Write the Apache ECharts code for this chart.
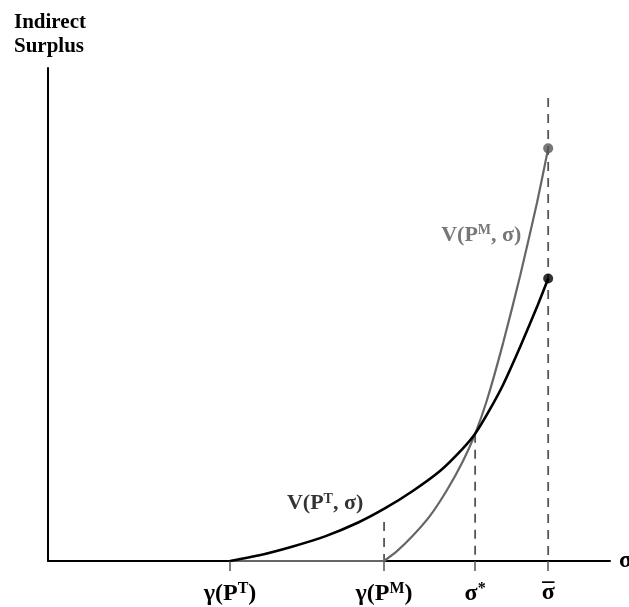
<!DOCTYPE html>
<html><head><meta charset="utf-8">
<script src="https://cdn.jsdelivr.net/npm/echarts@6/dist/echarts.min.js"></script>
<style>html,body{margin:0;padding:0;background:#fff}#c{width:629px;height:607px}</style>
</head><body><div id="c"></div>
<script>
// Tick positions on sigma axis
const tickValues = [3.24, 5.98, 7.6, 8.9];
const tickLabels = ['{b|γ(P}{s|T}{b|)}', '{b|γ(P}{s|M}{b|)}', '{b|σ}{s|*}', '{sg|σ}{ov|¯}'];
// V(P^T, sigma) - black curve
const curveT = [[3.24,0],[3.74,1.1],[4.34,2.9],[4.93,5.0],[5.52,7.8],[6.0,10.7],[6.49,14.2],[6.98,18.3],[7.38,22.8],[7.6,25.8],[7.86,30.7],[8.1,35.8],[8.4,43.4],[8.7,51.5],[8.9,57.3]];
// V(P^M, sigma) - gray curve: flat part, then rising part
const curveMFlat = [[3.24,0],[5.98,0]];
const curveM = [[5.98,0],[6.21,2.0],[6.49,5.1],[6.8,9.2],[7.1,14.4],[7.38,20.2],[7.6,25.8],[7.81,32.6],[8.1,44.3],[8.4,57.8],[8.7,72.6],[8.9,83.7]];
// dashed guides
const guideGM = [[5.98,7.9],[5.98,0]];
const guideStar = [[7.6,25.8],[7.6,0]];
const guideBar = [[8.9,93.9],[8.9,0]];
// curve label anchors
const labelT = [4.93, 11.6];
const labelM = [7.71, 66.1];

const FF = 'Liberation Serif';
function richC(color, size, sup){
  return {
    b:{fontFamily:FF,fontWeight:'bold',fontSize:size,color:color},
    s:{fontFamily:FF,fontWeight:'bold',fontSize:sup,color:color,verticalAlign:'top',padding:[0,0,Math.round(size*0.42),0]},
    sg:{fontFamily:FF,fontWeight:'bold',fontSize:size,color:color,width:0,align:'left'},
    ov:{fontFamily:FF,fontWeight:'bold',fontSize:size,color:color,width:Math.round(size*0.55),align:'center'}
  };
}
const dashStyle = {color:'#555',width:1.8,type:[9,7]};
const chart = echarts.init(document.getElementById('c'));
chart.setOption({
  animation:false,
  title:{text:'Indirect\nSurplus',left:9,top:6,textStyle:{fontFamily:FF,fontWeight:'bold',fontSize:21,lineHeight:24,color:'#000'}},
  grid:{left:48,right:19,top:68,bottom:46,containLabel:false,outerBoundsMode:'none'},
  xAxis:{type:'value',min:0,max:10,
    name:'σ',nameLocation:'end',nameGap:9,nameTextStyle:{fontFamily:FF,fontWeight:'bold',fontSize:24,color:'#000',verticalAlign:'middle'},
    axisLine:{lineStyle:{color:'#000',width:2}},
    splitLine:{show:false},
    axisTick:{show:true,customValues:tickValues,length:10,inside:false,lineStyle:{color:'#555',width:1.5}},
    axisLabel:{show:true,customValues:tickValues,margin:20,
      formatter:function(v){const i=tickValues.indexOf(v);return i>=0?tickLabels[i]:'';},
      rich:richC('#000',24,16)}
  },
  yAxis:{type:'value',min:0,max:100,
    axisLine:{show:true,lineStyle:{color:'#000',width:2}},
    axisTick:{show:false},axisLabel:{show:false},splitLine:{show:false}},
  series:[
    {type:'line',data:guideBar,symbol:'none',lineStyle:dashStyle,z:1},
    {type:'line',data:guideStar,symbol:'none',lineStyle:dashStyle,z:1},
    {type:'line',data:guideGM,symbol:'none',lineStyle:dashStyle,z:1},
    {type:'line',data:curveMFlat,symbol:'none',lineStyle:{color:'#666',width:2.2},z:3},
    {type:'line',data:curveM,smooth:0.2,symbol:'none',lineStyle:{color:'#666',width:2.2},z:3},
    {type:'line',data:curveT,smooth:0.2,symbol:'none',lineStyle:{color:'#000',width:2.6},z:4},
    {type:'scatter',data:[curveM[curveM.length-1]],symbolSize:10,itemStyle:{color:'#555'},z:5},
    {type:'scatter',data:[curveT[curveT.length-1]],symbolSize:10,itemStyle:{color:'#000'},z:5},
    {type:'scatter',data:[labelT],symbolSize:0,label:{show:true,position:'inside',formatter:'{b|V(P}{s|T}{b|, σ)}',rich:richC('#000',22,14)},z:6},
    {type:'scatter',data:[labelM],symbolSize:0,label:{show:true,position:'inside',formatter:'{b|V(P}{s|M}{b|, σ)}',rich:richC('#555',22,14)},z:6}
  ]
});
</script></body></html>
